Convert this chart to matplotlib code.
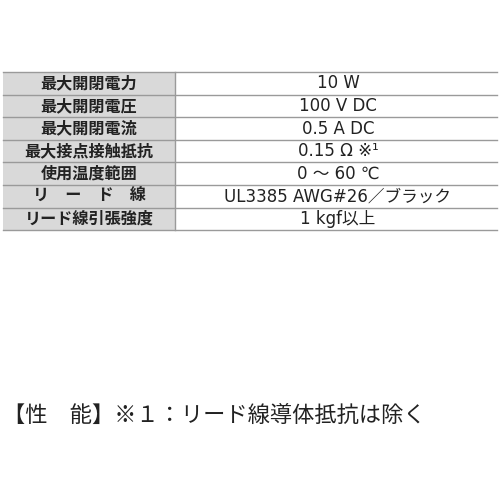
import matplotlib.pyplot as plt
from matplotlib.patches import Rectangle

plt.rcParams['font.family'] = ['Noto Sans CJK JP', 'DejaVu Sans']

items = ['最大開閉電力', '最大開閉電圧', '最大開閉電流', '最大接点接触抵抗',
         '使用温度範囲', 'リ　ー　ド　線', 'リード線引張強度']
values = ['10 W', '100 V DC', '0.5 A DC', '0.15 Ω ※¹',
          '0 ～ 60 ℃', 'UL3385 AWG#26／ブラック', '1 kgf以上']
note = '【性　能】※１：リード線導体抵抗は除く'

fig = plt.figure(figsize=(5, 5), dpi=100)
ax = fig.add_axes([0, 0, 1, 1])
ax.set_xlim(0, 500)
ax.set_ylim(500, 0)
ax.axis('off')

left, split, right = 3, 175, 497
top, row_h = 72, 22.6
n = len(items)
line_col = '#9a9a9a'

ax.add_patch(Rectangle((left, top), split - left, row_h * n, fc='#d9d9d9', ec='none'))
for i in range(n + 1):
    y = top + i * row_h
    ax.plot([left, right], [y, y], color=line_col, lw=1)
ax.plot([split, split], [top, top + row_h * n], color=line_col, lw=1)

for i, (k, v) in enumerate(zip(items, values)):
    yc = top + (i + 0.5) * row_h
    ax.text((left + split) / 2, yc, k, ha='center', va='center',
            fontsize=11.6, fontweight='bold', color='#222222')
    ax.text((split + right) / 2 + 2, yc, v, ha='center', va='center',
            fontsize=12, color='#222222', family=['DejaVu Sans', 'Noto Sans CJK JP'])

ax.text(3, 415, note, ha='left', va='center', fontsize=16, color='#222222')

fig.savefig('out.png')
